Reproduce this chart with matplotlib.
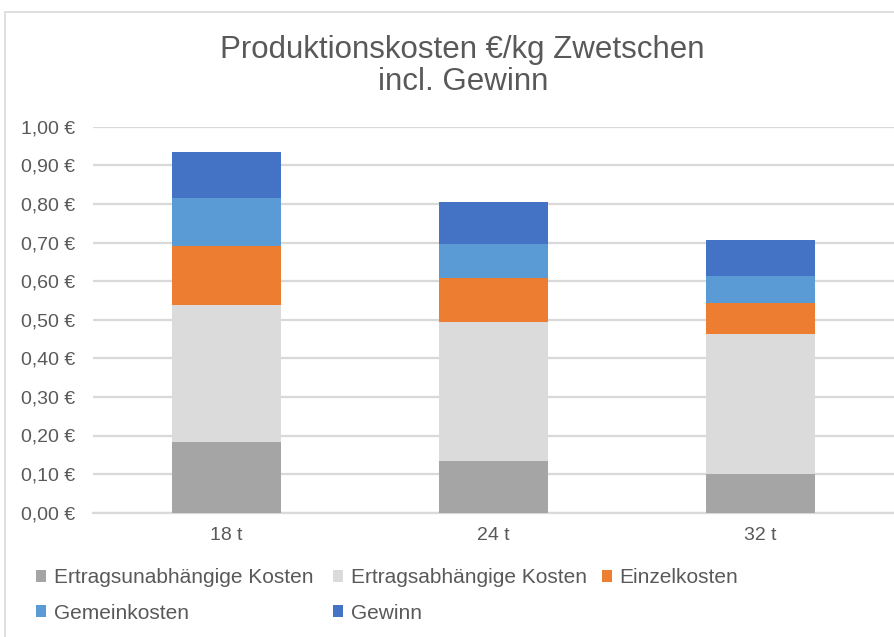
import matplotlib.pyplot as plt
from matplotlib.patches import Rectangle
from matplotlib.ticker import FuncFormatter

plt.rcParams['font.family'] = ['Liberation Sans', 'DejaVu Sans']

# data (EUR per kg)
categories = ['18 t', '24 t', '32 t']
series = ['Ertragsunabhängige Kosten', 'Ertragsabhängige Kosten', 'Einzelkosten',
          'Gemeinkosten', 'Gewinn']
ertragsunabh = [0.183, 0.134, 0.099]
ertragsabh = [0.356, 0.360, 0.364]
einzel = [0.151, 0.113, 0.079]
gemein = [0.125, 0.090, 0.072]
gewinn = [0.120, 0.108, 0.092]
colors = ['#a5a5a5', '#dbdbdb', '#ed7d31', '#5b9bd5', '#4472c4']

values = [ertragsunabh, ertragsabh, einzel, gemein, gewinn]

fig = plt.figure(figsize=(8.95, 6.37), dpi=100)
ax = fig.add_axes([93 / 895, 1 - 512.7 / 637, 801 / 895, (512.7 - 126.7) / 637])

x = range(len(categories))
bottom = [0.0] * len(categories)
handles = []
for name, vals, c in zip(series, values, colors):
    b = ax.bar(x, vals, width=0.405, bottom=bottom, color=c, label=name, zorder=3)
    handles.append(b)
    bottom = [bo + v for bo, v in zip(bottom, vals)]

ax.set_xlim(-0.5, 2.5)
ax.set_ylim(0, 1.0)
ax.set_yticks([i / 10 for i in range(11)])
ax.yaxis.set_major_formatter(FuncFormatter(lambda v, p: f'{v:.2f} €'.replace('.', ',')))
ax.set_xticks(list(x))
ax.set_xticklabels(categories)
ax.tick_params(length=0, labelsize=14, colors='#595959')
ax.tick_params(axis='x', pad=10)
ax.tick_params(axis='y', pad=13)
ax.grid(axis='y', color='#d9d9d9', linewidth=1.6, zorder=0)
for s in ('top', 'right', 'left'):
    ax.spines[s].set_visible(False)
ax.spines['bottom'].set_color('#d9d9d9')
ax.spines['bottom'].set_linewidth(1.6)

fig.text(0.517, 1 - 66 / 637, 'Produktionskosten €/kg Zwetschen\nincl. Gewinn',
         ha='center', va='center', fontsize=22.5, color='#595959', linespacing=1.05)

# legend laid out as in the reference: three columns, filled row by row
legend_cols = [([0, 3], 36), ([1, 4], 333), ([2], 602)]
for idx, xpix in legend_cols:
    fig.legend([handles[i] for i in idx], [series[i] for i in idx],
               loc='upper left', bbox_to_anchor=(xpix / 895, 1 - 568 / 637),
               frameon=False, fontsize=15, labelcolor='#595959', handlelength=0.5,
               handleheight=0.5, handletextpad=0.35, labelspacing=0.8,
               borderaxespad=0, borderpad=0)

fig.patches.append(Rectangle((5 / 895, -0.1), 1.2, 1 - 12 / 637 + 0.1,
                             transform=fig.transFigure, fill=False,
                             edgecolor='#d9d9d9', linewidth=1.2))

fig.savefig('out.png', dpi=100)
